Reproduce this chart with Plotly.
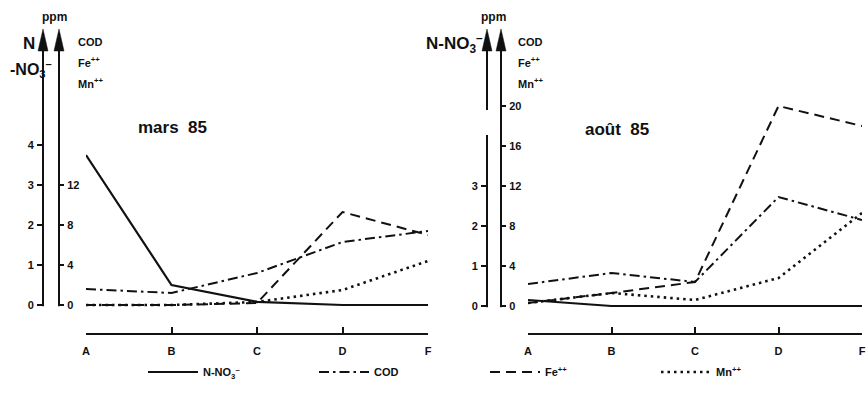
import plotly.graph_objects as go

# ---------------- data ----------------
categories = ["A", "B", "C", "D", "F"]

mars_no3 = [3.75, 0.5, 0.08, 0.0, 0.0]      # N-NO3- (left scale)
mars_cod = [1.6, 1.2, 3.2, 6.3, 7.4]        # ppm
mars_fe = [0.0, 0.0, 0.2, 9.3, 7.0]         # ppm
mars_mn = [0.0, 0.0, 0.3, 1.5, 4.4]         # ppm

aout_no3 = [0.15, 0.0, 0.0, 0.0, 0.0]
aout_cod = [2.2, 3.3, 2.4, 10.9, 8.6]
aout_fe = [0.3, 1.3, 2.4, 20.0, 18.0]
aout_mn = [0.3, 1.3, 0.6, 2.8, 9.3]

ppm_ticks_mars = [0, 4, 8, 12]
no3_ticks_mars = [0, 1, 2, 3, 4]
ppm_ticks_aout = [0, 4, 8, 12, 16, 20]
no3_ticks_aout = [0, 1, 2, 3]

series_names = ["N-NO<sub>3</sub><sup>–</sup>", "COD", "Fe<sup>++</sup>", "Mn<sup>++</sup>"]

# ---------------- layout helpers ----------------
OFF = 0
W, H = 867, 393
def px(x):
    return (x - OFF) / W
def py(y):
    return 1 - (y - OFF) / H

FONT = "Liberation Sans"
BLACK = "#111111"

styles = [
    dict(color=BLACK, width=2.2, dash="solid"),
    dict(color=BLACK, width=2.0, dash="10px,4px,2.5px,4px"),
    dict(color=BLACK, width=2.0, dash="10px,6px"),
    dict(color=BLACK, width=2.6, dash="2.5px,4px"),
]

fig = go.Figure()

panels = [
    dict(xa="x", ya="y", yn="y3", x0=86, x1=428, y0=305, nax=43, pax=59,
         no3=mars_no3, others=[mars_cod, mars_fe, mars_mn], legend=True),
    dict(xa="x2", ya="y2", yn="y4", x0=528, x1=862, y0=306, nax=487, pax=501,
         no3=aout_no3, others=[aout_cod, aout_fe, aout_mn], legend=False),
]

YTOP = 50      # pixel of top of axis line (base of arrow)
XAXIS_Y = 333  # pixel of category axis line

for p in panels:
    fig.add_trace(go.Scatter(
        x=categories, y=p["no3"], mode="lines", name=series_names[0],
        line=styles[0], xaxis=p["xa"], yaxis=p["yn"],
        showlegend=p["legend"], legendrank=1))
    for i, vals in enumerate(p["others"]):
        fig.add_trace(go.Scatter(
            x=categories, y=vals, mode="lines", name=series_names[i + 1],
            line=styles[i + 1], xaxis=p["xa"], yaxis=p["ya"],
            showlegend=p["legend"], legendrank=i + 2))

tickfont = dict(family=FONT, size=11, color=BLACK, weight="bold")

def xaxis_cfg(p, anchor):
    return dict(
        domain=[px(p["x0"]), px(p["x1"])], range=[0, 4], anchor=anchor,
        type="category", categoryorder="array", categoryarray=categories,
        showline=True, linecolor=BLACK, linewidth=2,
        ticks="inside", ticklen=6, tickwidth=1.5, tickcolor=BLACK,
        tickfont=tickfont, showgrid=False, zeroline=False,
        ticklabelstandoff=7, ticklabeloverflow="allow", fixedrange=True)

def yppm_cfg(p, ticks):
    top = (p["y0"] - YTOP) / 10.0
    bot = (XAXIS_Y - p["y0"]) / 10.0
    return dict(
        domain=[py(XAXIS_Y), py(YTOP)], range=[-bot, top],
        anchor="free", position=px(p["pax"]), side="right",
        showline=True, linecolor=BLACK, linewidth=2,
        ticks="outside", ticklen=4, tickwidth=1.5, tickcolor=BLACK,
        tickvals=ticks, tickfont=tickfont, showgrid=False, zeroline=False,
        ticklabelstandoff=1, fixedrange=True)

def yno3_cfg(p, ticks, over):
    top = (p["y0"] - YTOP) / 40.0
    bot = (XAXIS_Y - p["y0"]) / 40.0
    return dict(
        range=[-bot, top], overlaying=over,
        anchor="free", position=px(p["nax"]), side="left",
        showline=True, linecolor=BLACK, linewidth=2,
        ticks="outside", ticklen=5, tickwidth=1.5, tickcolor=BLACK,
        tickvals=ticks, tickfont=tickfont, showgrid=False, zeroline=False,
        ticklabelstandoff=1, fixedrange=True)

fig.update_layout(
    width=W, height=H,
    margin=dict(l=0, r=0, t=0, b=0, autoexpand=False),
    plot_bgcolor="rgba(0,0,0,0)", paper_bgcolor="white",
    font=dict(family=FONT, color=BLACK, size=11),
    xaxis=xaxis_cfg(panels[0], "y"), xaxis2=xaxis_cfg(panels[1], "y2"),
    yaxis=yppm_cfg(panels[0], ppm_ticks_mars),
    yaxis2=yppm_cfg(panels[1], ppm_ticks_aout),
    yaxis3=yno3_cfg(panels[0], no3_ticks_mars, "y"),
    yaxis4=yno3_cfg(panels[1], no3_ticks_aout, "y2"),
    legend=dict(orientation="h", x=px(143), xanchor="left", y=py(372), yanchor="middle",
                font=dict(family=FONT, size=11, color=BLACK, weight="bold"),
                entrywidth=106, entrywidthmode="pixels", itemwidth=50,
                bgcolor="rgba(0,0,0,0)", traceorder="normal"),
    modebar=dict(bgcolor="rgba(0,0,0,0)", color="rgba(0,0,0,0)",
                 activecolor="rgba(0,0,0,0)"),
    showlegend=True,
)

shapes = []
# near-transparent band over the category-axis strip (keeps that strip repainted)
shapes.append(dict(type="rect", xref="paper", yref="paper", layer="above",
                   x0=0.3, x1=0.7, y0=py(348), y1=py(318),
                   fillcolor="rgba(255,255,255,0.02)", line=dict(width=0)))
for p in panels:
    for xa in [p["nax"], p["pax"]]:
        shapes.append(dict(
            type="path", xref="paper", yref="paper", layer="above",
            path=f"M {px(xa)},{py(29)} L {px(xa-5)},{py(51)} L {px(xa+5)},{py(51)} Z",
            fillcolor=BLACK, line=dict(color=BLACK, width=0.5)))
        shapes.append(dict(type="rect", xref="paper", yref="paper", layer="above",
                           x0=px(xa - 2.5), x1=px(xa + 2.5),
                           y0=py(XAXIS_Y + 3), y1=py(p["y0"] + 1.2),
                           fillcolor="white", line=dict(width=0)))
shapes.append(dict(type="rect", xref="paper", yref="paper", layer="above",
                   x0=px(483), x1=px(491), y0=py(135), y1=py(110),
                   fillcolor="white", line=dict(width=0)))
fig.update_layout(shapes=shapes)

def ann(text, x, y, size=11, xanchor="left"):
    fig.add_annotation(text=text, x=px(x), y=py(y), xref="paper", yref="paper",
                       showarrow=False, xanchor=xanchor, yanchor="middle",
                       font=dict(family=FONT, size=size, color=BLACK, weight="bold"))

ann("ppm", 55, 17, 12, "center")
ann("N", 29, 43, 17, "center")
ann("-NO<sub>3</sub><sup>–</sup>", 8, 69, 16, "left")
ann("COD", 76, 42, 11)
ann("Fe<sup>++</sup>", 76, 62, 11)
ann("Mn<sup>++</sup>", 76, 83, 11)
ann("mars  85", 136, 127, 17)

ann("ppm", 493, 17, 12, "center")
ann("N-NO<sub>3</sub><sup>–</sup>", 485, 43, 17, "right")
ann("COD", 516, 42, 11)
ann("Fe<sup>++</sup>", 516, 62, 11)
ann("Mn<sup>++</sup>", 516, 83, 11)
ann("août  85", 583, 130, 17)

fig.write_html("out.html", config={"displaylogo": False},
               post_script="document.body.style.margin='0';document.body.style.overflow='hidden';")
